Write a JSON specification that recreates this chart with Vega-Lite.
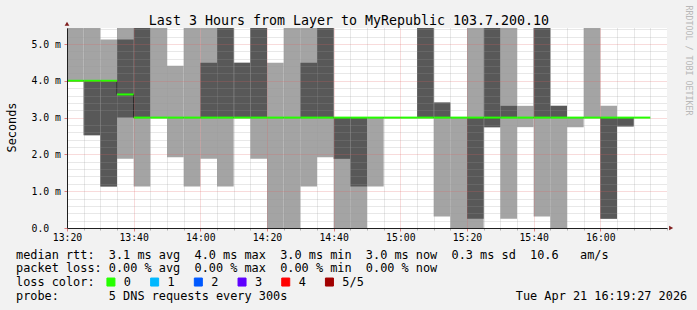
{
  "$schema": "https://vega.github.io/schema/vega-lite/v6.json",
  "width": 600,
  "height": 200,
  "autosize": {"type": "none"},
  "padding": {"left": 67, "top": 28, "right": 30, "bottom": 82},
  "background": "#f2f2f2",
  "config": {
    "font": "DejaVu Sans Mono",
    "view": {"fill": "white", "stroke": null},
    "axis": {"labelFont": "DejaVu Sans Mono", "titleFont": "DejaVu Sans Mono", "labelColor": "black", "titleColor": "black", "titleFontWeight": "normal"},
    "legend": {"labelFont": "DejaVu Sans Mono", "titleFont": "DejaVu Sans Mono"}
  },
  "data": {
    "values": [
      {"t": "2026-04-21T13:15:00", "t2": "2026-04-21T13:20:00", "lo1": null, "hi1": null, "lo2": null, "hi2": null, "med": 3.35, "loss": "0"},
      {"t": "2026-04-21T13:20:00", "t2": "2026-04-21T13:25:00", "lo1": 4.0, "hi1": 6.0, "lo2": 4.0, "hi2": 4.0, "med": 4.0, "loss": "0"},
      {"t": "2026-04-21T13:25:00", "t2": "2026-04-21T13:30:00", "lo1": 2.52, "hi1": 6.0, "lo2": 2.52, "hi2": 4.0, "med": 4.0, "loss": "0"},
      {"t": "2026-04-21T13:30:00", "t2": "2026-04-21T13:35:00", "lo1": 1.13, "hi1": 5.12, "lo2": 1.13, "hi2": 4.0, "med": 4.0, "loss": "0"},
      {"t": "2026-04-21T13:35:00", "t2": "2026-04-21T13:40:00", "lo1": 1.88, "hi1": 6.0, "lo2": 3.0, "hi2": 5.12, "med": 3.63, "loss": "0"},
      {"t": "2026-04-21T13:40:00", "t2": "2026-04-21T13:45:00", "lo1": 1.13, "hi1": 6.0, "lo2": 3.0, "hi2": 6.0, "med": 3.0, "loss": "0"},
      {"t": "2026-04-21T13:45:00", "t2": "2026-04-21T13:50:00", "lo1": 3.0, "hi1": 6.0, "lo2": 3.0, "hi2": 3.0, "med": 3.0, "loss": "0"},
      {"t": "2026-04-21T13:50:00", "t2": "2026-04-21T13:55:00", "lo1": 1.92, "hi1": 4.41, "lo2": 3.0, "hi2": 3.0, "med": 3.0, "loss": "0"},
      {"t": "2026-04-21T13:55:00", "t2": "2026-04-21T14:00:00", "lo1": 1.13, "hi1": 6.0, "lo2": 3.0, "hi2": 3.0, "med": 3.0, "loss": "0"},
      {"t": "2026-04-21T14:00:00", "t2": "2026-04-21T14:05:00", "lo1": 1.88, "hi1": 6.0, "lo2": 3.0, "hi2": 4.49, "med": 3.0, "loss": "0"},
      {"t": "2026-04-21T14:05:00", "t2": "2026-04-21T14:10:00", "lo1": 1.13, "hi1": 6.0, "lo2": 3.0, "hi2": 6.0, "med": 3.0, "loss": "0"},
      {"t": "2026-04-21T14:10:00", "t2": "2026-04-21T14:15:00", "lo1": 3.0, "hi1": 4.49, "lo2": 3.0, "hi2": 4.49, "med": 3.0, "loss": "0"},
      {"t": "2026-04-21T14:15:00", "t2": "2026-04-21T14:20:00", "lo1": 1.88, "hi1": 6.0, "lo2": 3.0, "hi2": 6.0, "med": 3.0, "loss": "0"},
      {"t": "2026-04-21T14:20:00", "t2": "2026-04-21T14:25:00", "lo1": 0.0, "hi1": 4.49, "lo2": 3.0, "hi2": 3.0, "med": 3.0, "loss": "0"},
      {"t": "2026-04-21T14:25:00", "t2": "2026-04-21T14:30:00", "lo1": 0.0, "hi1": 6.0, "lo2": 3.0, "hi2": 3.0, "med": 3.0, "loss": "0"},
      {"t": "2026-04-21T14:30:00", "t2": "2026-04-21T14:35:00", "lo1": 1.13, "hi1": 6.0, "lo2": 3.0, "hi2": 4.49, "med": 3.0, "loss": "0"},
      {"t": "2026-04-21T14:35:00", "t2": "2026-04-21T14:40:00", "lo1": 1.92, "hi1": 6.0, "lo2": 3.0, "hi2": 6.0, "med": 3.0, "loss": "0"},
      {"t": "2026-04-21T14:40:00", "t2": "2026-04-21T14:45:00", "lo1": 0.0, "hi1": 3.0, "lo2": 1.88, "hi2": 3.0, "med": 3.0, "loss": "0"},
      {"t": "2026-04-21T14:45:00", "t2": "2026-04-21T14:50:00", "lo1": 0.0, "hi1": 3.0, "lo2": 1.13, "hi2": 3.0, "med": 3.0, "loss": "0"},
      {"t": "2026-04-21T14:50:00", "t2": "2026-04-21T14:55:00", "lo1": 1.13, "hi1": 3.0, "lo2": 3.0, "hi2": 3.0, "med": 3.0, "loss": "0"},
      {"t": "2026-04-21T14:55:00", "t2": "2026-04-21T15:00:00", "lo1": 3.0, "hi1": 3.0, "lo2": 3.0, "hi2": 3.0, "med": 3.0, "loss": "0"},
      {"t": "2026-04-21T15:00:00", "t2": "2026-04-21T15:05:00", "lo1": 3.0, "hi1": 3.0, "lo2": 3.0, "hi2": 3.0, "med": 3.0, "loss": "0"},
      {"t": "2026-04-21T15:05:00", "t2": "2026-04-21T15:10:00", "lo1": 3.0, "hi1": 6.0, "lo2": 3.0, "hi2": 6.0, "med": 3.0, "loss": "0"},
      {"t": "2026-04-21T15:10:00", "t2": "2026-04-21T15:15:00", "lo1": 0.31, "hi1": 3.41, "lo2": 3.0, "hi2": 3.41, "med": 3.0, "loss": "0"},
      {"t": "2026-04-21T15:15:00", "t2": "2026-04-21T15:20:00", "lo1": 0.0, "hi1": 3.0, "lo2": 3.0, "hi2": 3.0, "med": 3.0, "loss": "0"},
      {"t": "2026-04-21T15:20:00", "t2": "2026-04-21T15:25:00", "lo1": 0.0, "hi1": 6.0, "lo2": 0.25, "hi2": 3.0, "med": 3.0, "loss": "0"},
      {"t": "2026-04-21T15:25:00", "t2": "2026-04-21T15:30:00", "lo1": 2.74, "hi1": 6.0, "lo2": 2.74, "hi2": 6.0, "med": 3.0, "loss": "0"},
      {"t": "2026-04-21T15:30:00", "t2": "2026-04-21T15:35:00", "lo1": 0.25, "hi1": 6.0, "lo2": 3.0, "hi2": 3.32, "med": 3.0, "loss": "0"},
      {"t": "2026-04-21T15:35:00", "t2": "2026-04-21T15:40:00", "lo1": 2.74, "hi1": 3.32, "lo2": 3.0, "hi2": 3.0, "med": 3.0, "loss": "0"},
      {"t": "2026-04-21T15:40:00", "t2": "2026-04-21T15:45:00", "lo1": 0.31, "hi1": 6.0, "lo2": 3.0, "hi2": 6.0, "med": 3.0, "loss": "0"},
      {"t": "2026-04-21T15:45:00", "t2": "2026-04-21T15:50:00", "lo1": 0.0, "hi1": 3.32, "lo2": 3.0, "hi2": 3.32, "med": 3.0, "loss": "0"},
      {"t": "2026-04-21T15:50:00", "t2": "2026-04-21T15:55:00", "lo1": 2.74, "hi1": 3.0, "lo2": 3.0, "hi2": 3.0, "med": 3.0, "loss": "0"},
      {"t": "2026-04-21T15:55:00", "t2": "2026-04-21T16:00:00", "lo1": 3.0, "hi1": 6.0, "lo2": 3.0, "hi2": 3.0, "med": 3.0, "loss": "0"},
      {"t": "2026-04-21T16:00:00", "t2": "2026-04-21T16:05:00", "lo1": 0.25, "hi1": 3.32, "lo2": 0.25, "hi2": 3.0, "med": 3.0, "loss": "0"},
      {"t": "2026-04-21T16:05:00", "t2": "2026-04-21T16:10:00", "lo1": 2.76, "hi1": 3.0, "lo2": 2.76, "hi2": 3.0, "med": 3.0, "loss": "0"},
      {"t": "2026-04-21T16:10:00", "t2": "2026-04-21T16:15:00", "lo1": 3.0, "hi1": 3.0, "lo2": 3.0, "hi2": 3.0, "med": 3.0, "loss": "0"}
    ]
  },
  "resolve": {"axis": {"x": "independent", "y": "independent"}},
  "layer": [
    {
      "mark": {"type": "rect", "color": "#a4a4a4", "clip": true},
      "encoding": {
        "x": {"field": "t", "type": "temporal",
          "scale": {"domain": [{"year": 2026, "month": 4, "date": 21, "hours": 13, "minutes": 20}, {"year": 2026, "month": 4, "date": 21, "hours": 16, "minutes": 20}], "nice": false},
          "axis": {"orient": "bottom", "tickCount": 36, "labels": false, "ticks": true, "tickSize": 2, "tickColor": "#b0b0b0", "domain": false, "grid": true, "gridColor": "#9a9a9a", "gridOpacity": {"condition": {"test": "minutes(datum.value) % 20 === 0", "value": 0}, "value": 0.45}, "gridDash": [1, 1], "title": null, "zindex": 1}},
        "x2": {"field": "t2"},
        "y": {"field": "lo1", "type": "quantitative",
          "scale": {"domain": [0, 5.435], "nice": false, "zero": false},
          "axis": {"orient": "left", "values": [0.2, 0.4, 0.6, 0.8, 1.2, 1.4, 1.6, 1.8, 2.2, 2.4, 2.6, 2.8, 3.2, 3.4, 3.6, 3.8, 4.2, 4.4, 4.6, 4.8, 5.2, 5.4], "labels": false, "ticks": false, "domain": false, "grid": true, "gridColor": "#9a9a9a", "gridOpacity": 0.45, "gridDash": [1, 1], "title": null, "zindex": 1}},
        "y2": {"field": "hi1"}
      }
    },
    {
      "mark": {"type": "rect", "color": "#585858", "clip": true},
      "encoding": {
        "x": {"field": "t", "type": "temporal",
          "scale": {"domain": [{"year": 2026, "month": 4, "date": 21, "hours": 13, "minutes": 20}, {"year": 2026, "month": 4, "date": 21, "hours": 16, "minutes": 20}], "nice": false},
          "axis": {"orient": "bottom",
            "values": [
              {"year": 2026, "month": 4, "date": 21, "hours": 13, "minutes": 20},
              {"year": 2026, "month": 4, "date": 21, "hours": 13, "minutes": 40},
              {"year": 2026, "month": 4, "date": 21, "hours": 14, "minutes": 0},
              {"year": 2026, "month": 4, "date": 21, "hours": 14, "minutes": 20},
              {"year": 2026, "month": 4, "date": 21, "hours": 14, "minutes": 40},
              {"year": 2026, "month": 4, "date": 21, "hours": 15, "minutes": 0},
              {"year": 2026, "month": 4, "date": 21, "hours": 15, "minutes": 20},
              {"year": 2026, "month": 4, "date": 21, "hours": 15, "minutes": 40},
              {"year": 2026, "month": 4, "date": 21, "hours": 16, "minutes": 0}
            ],
            "format": "%H:%M", "labelFontSize": 9.8, "labelPadding": 1.5, "labelFlush": false, "labelOverlap": false,
            "ticks": true, "tickSize": 3, "tickColor": "#e08080",
            "domain": true, "domainColor": "#1f1f1f", "domainWidth": 1,
            "grid": true, "gridColor": "#e06060", "gridOpacity": 0.45, "gridDash": [1, 1],
            "title": [
              "median rtt:\u00a0\u00a03.1 ms avg\u00a0\u00a04.0 ms max\u00a0\u00a03.0 ms min\u00a0\u00a03.0 ms now\u00a0\u00a00.3 ms sd\u00a0\u00a010.6\u00a0\u00a0\u00a0am/s",
              "packet loss:\u00a00.00 % avg\u00a0\u00a00.00 % max\u00a0\u00a00.00 % min\u00a0\u00a00.00 % now",
              "loss color:",
              "probe:\u00a0\u00a0\u00a0\u00a0\u00a0\u00a0\u00a05 DNS requests every 300s\u00a0\u00a0\u00a0\u00a0\u00a0\u00a0\u00a0\u00a0\u00a0\u00a0\u00a0\u00a0\u00a0\u00a0\u00a0\u00a0\u00a0\u00a0\u00a0\u00a0\u00a0\u00a0\u00a0\u00a0\u00a0\u00a0\u00a0\u00a0\u00a0\u00a0\u00a0\u00a0Tue Apr 21 16:19:27 2026"
            ],
            "titleX": -51.5, "titleY": 30.2, "titleAlign": "left", "titleAnchor": "start", "titleBaseline": "alphabetic",
            "titleFontSize": 11.87, "titleLineHeight": 13.8, "zindex": 1}},
        "x2": {"field": "t2"},
        "y": {"field": "lo2", "type": "quantitative",
          "scale": {"domain": [0, 5.435], "nice": false, "zero": false},
          "axis": {"orient": "left", "values": [0, 1, 2, 3, 4, 5],
            "labelExpr": "datum.value == 0 ? '0.0' : format(datum.value, '.1f') + ' m'",
            "labelAlign": "left", "labelBaseline": "middle", "labelPadding": 33, "labelFontSize": 9.8,
            "ticks": true, "tickSize": 3, "tickColor": "#e08080",
            "domain": true, "domainColor": "#1f1f1f", "domainWidth": 1,
            "grid": true, "gridColor": "#e06060", "gridOpacity": {"condition": {"test": "datum.value === 3 || datum.value === 0", "value": 0}, "value": 0.45}, "gridDash": [1, 1],
            "title": "Seconds", "titleAngle": 270, "titleX": -56, "titleY": 99, "titleAlign": "center", "titleBaseline": "middle", "titleFontSize": 11.87,
            "zindex": 1}},
        "y2": {"field": "hi2"}
      }
    },
    {
      "mark": {"type": "line", "interpolate": "step-after", "color": "#202020", "strokeWidth": 1, "clip": true},
      "encoding": {
        "x": {"field": "t", "type": "temporal",
          "scale": {"domain": [{"year": 2026, "month": 4, "date": 21, "hours": 13, "minutes": 20}, {"year": 2026, "month": 4, "date": 21, "hours": 16, "minutes": 20}], "nice": false},
          "axis": {"orient": "top", "labels": false, "ticks": false, "domain": false, "grid": false,
            "title": "Last 3 Hours from Layer to MyRepublic 103.7.200.10", "titleX": 281.5, "titleY": -4, "titleAlign": "center", "titleBaseline": "alphabetic", "titleFontSize": 13.3}},
        "y": {"field": "med", "type": "quantitative",
          "scale": {"domain": [0, 5.435], "nice": false, "zero": false},
          "axis": {"orient": "left", "values": [3], "labels": false, "ticks": false, "domain": false, "grid": true, "gridColor": "#e06060", "gridOpacity": 0.45, "gridDash": [1, 1], "title": null, "zindex": 0}}
      }
    },
    {
      "mark": {"type": "rule", "strokeWidth": 2, "clip": true},
      "encoding": {
        "x": {"field": "t", "type": "temporal",
          "scale": {"domain": [{"year": 2026, "month": 4, "date": 21, "hours": 13, "minutes": 20}, {"year": 2026, "month": 4, "date": 21, "hours": 16, "minutes": 20}], "nice": false},
          "axis": null},
        "x2": {"field": "t2"},
        "y": {"field": "med", "type": "quantitative",
          "scale": {"domain": [0, 5.435], "nice": false, "zero": false},
          "axis": {"orient": "right", "labels": false, "ticks": false, "domain": false, "grid": false,
            "title": "RRDTOOL / TOBI OETIKER", "titleAngle": 90, "titleX": 20.5, "titleY": 32, "titleAlign": "center", "titleBaseline": "middle", "titleFontSize": 8.3, "titleColor": "#b8b8b8"}},
        "color": {"field": "loss", "type": "nominal",
          "scale": {"domain": ["0", "1", "2", "3", "4", "5/5"], "range": ["#26ff00", "#00b8ff", "#0059ff", "#5e00ff", "#ff0000", "#a10000"]},
          "legend": {"orient": "none", "legendX": 38, "legendY": 248, "direction": "horizontal", "title": null, "padding": 0,
            "labelFontSize": 11.87, "labelColor": "black", "labelOffset": 7, "columnPadding": 15.7,
            "symbolType": "square", "symbolSize": 64, "symbolStrokeColor": "black", "symbolStrokeWidth": 1, "symbolOpacity": 1,
            "encode": {"symbols": {"update": {"fill": {"scale": "color", "field": "value"}, "stroke": {"value": "black"}, "fillOpacity": {"value": 1}}}}}}
      }
    },
    {
      "data": {"values": [{"marker": "y arrow"}]},
      "mark": {"type": "point", "shape": "triangle-up", "filled": true, "color": "#801f1f", "size": 22, "opacity": 1, "clip": false},
      "encoding": {
        "x": {"datum": {"year": 2026, "month": 4, "date": 21, "hours": 13, "minutes": 20}, "type": "temporal", "axis": null},
        "y": {"datum": 5.55, "type": "quantitative", "axis": null}
      }
    },
    {
      "data": {"values": [{"marker": "x arrow"}]},
      "mark": {"type": "point", "shape": "triangle-right", "filled": true, "color": "#801f1f", "size": 22, "opacity": 1, "clip": false},
      "encoding": {
        "x": {"datum": {"year": 2026, "month": 4, "date": 21, "hours": 16, "minutes": 21, "seconds": 15}, "type": "temporal", "axis": null},
        "y": {"datum": 0, "type": "quantitative", "axis": null}
      }
    }
  ]
}
